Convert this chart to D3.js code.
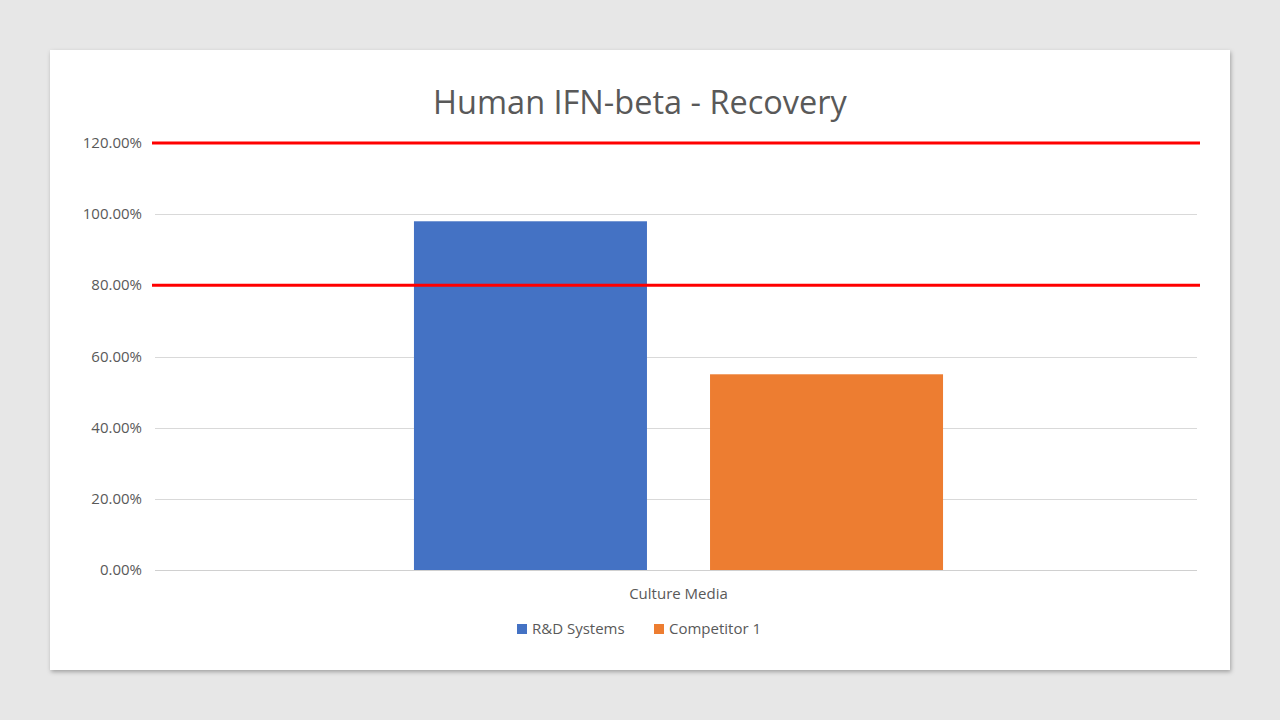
<!DOCTYPE html>
<html><head><meta charset="utf-8">
<script src="https://cdn.jsdelivr.net/npm/d3@7"></script>
<style>body{margin:0;background:#e7e7e7;}svg{display:block;font-family:"Open Sans","Noto Sans",sans-serif;}</style>
</head><body>
<svg id="c" width="1280" height="720"></svg>
<script>
const categories = ["Culture Media"];
const series = ["R&D Systems", "Competitor 1"];
const values = [[0.98, 0.55]];
const refLines = [1.2, 0.8];
const yTicks = [0, 0.2, 0.4, 0.6, 0.8, 1.0, 1.2];
const colors = ["#4472c4", "#ed7d31"];

const svg = d3.select("#c");
const defs = svg.append("defs");
const f = defs.append("filter").attr("id","sh").attr("x","-5%").attr("y","-5%").attr("width","110%").attr("height","110%");
f.append("feDropShadow").attr("dx",1).attr("dy",2).attr("stdDeviation",2).attr("flood-color","#000").attr("flood-opacity",0.3);
svg.append("rect").attr("x",50).attr("y",50).attr("width",1180).attr("height",620).attr("fill","#fff").attr("filter","url(#sh)");

const L=160,R=1197,T=143,B=570;
const y = d3.scaleLinear().domain([0,1.2]).range([B,T]);
const x0 = d3.scaleBand().domain(categories).range([L,R]).paddingInner(0).paddingOuter(0.48);
const x1 = d3.scaleBand().domain(series).range([0,x0.bandwidth()]).paddingInner(0.213).paddingOuter(0);

svg.append("text").attr("x",640).attr("y",114).attr("text-anchor","middle").attr("font-size",32.5).attr("fill","#595959").text("Human IFN-beta - Recovery");

const g = svg.append("g");
g.selectAll("line.grid").data(yTicks).join("line").attr("x1",155).attr("x2",R)
 .attr("y1",d=>Math.round(y(d))+0.5).attr("y2",d=>Math.round(y(d))+0.5).attr("stroke",d=>d===0?"#d0d0d0":"#d9d9d9").attr("stroke-width",1);
g.selectAll("text.tk").data(yTicks).join("text").attr("x",142).attr("y",d=>y(d)+5).attr("text-anchor","end")
 .attr("font-size",15).attr("fill","#595959").text(d=>d3.format(".2%")(d));

categories.forEach((c,ci)=>{
  g.selectAll("rect.b"+ci).data(series).join("rect")
   .attr("x",s=>x0(c)+x1(s)).attr("width",x1.bandwidth())
   .attr("y",(s,i)=>y(values[ci][i])).attr("height",(s,i)=>B-y(values[ci][i]))
   .attr("fill",(s,i)=>colors[i]);
  g.append("text").attr("x",x0(c)+x0.bandwidth()/2).attr("y",599).attr("text-anchor","middle").attr("font-size",15).attr("fill","#595959").text(c);
});

g.selectAll("line.ref").data(refLines).join("line").attr("x1",152).attr("x2",1200)
 .attr("y1",d=>y(d)).attr("y2",d=>y(d)).attr("stroke","#ff0000").attr("stroke-width",3);

const lg = svg.append("g");
const lx=[517,654];
series.forEach((s,i)=>{
  lg.append("rect").attr("x",lx[i]).attr("y",624).attr("width",10).attr("height",10).attr("fill",colors[i]);
  lg.append("text").attr("x",lx[i]+15).attr("y",634).attr("font-size",15).attr("fill","#595959").text(s);
});
</script>
</body></html>
